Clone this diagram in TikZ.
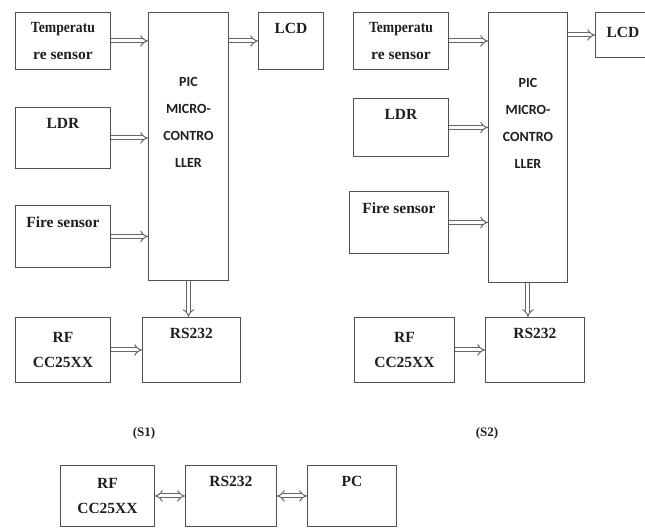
\documentclass[tikz,border=0pt]{standalone}
\usepackage{fontspec}
\usepackage{graphicx}
\setmainfont{Liberation Serif}
\newfontfamily\picfont{Carlito}
\usetikzlibrary{positioning, arrows.meta}
\definecolor{boxline}{HTML}{505050}
\definecolor{busline}{HTML}{666666}
\definecolor{textmain}{HTML}{1E1E1E}

\begin{document}
\begin{tikzpicture}[x=1pt, y=-1pt,
        blk/.style={rectangle, draw=boxline, line width=0.9pt, anchor=north west,
                    inner sep=0pt, font=\fontsize{15.5}{25}\selectfont\bfseries,
                    text=textmain, align=center},
        lbl/.style={anchor=north, yshift=-8pt, font=\fontsize{15.5}{18}\selectfont\bfseries,
                    text=textmain},
        mcu/.style={anchor=center, yshift=24pt, align=center, text=textmain,
                    font=\picfont\fontsize{14}{27}\selectfont\bfseries},
        captxt/.style={font=\fontsize{13}{15}\selectfont\bfseries, text=textmain},
        bus/.style={draw=busline, line width=1pt, double=white, double distance=3pt, -{Implies}},
        bus2/.style={bus, {Implies}-{Implies}}
      ]
        \useasboundingbox (0,0) rectangle (645,528);
        \clip (0,0) rectangle (645,528);

        % station S1
        \node[blk, minimum width=95pt, minimum height=57pt, font=\fontsize{15.5}{27}\selectfont\bfseries]
              (tempA) at (15,12) {\scalebox{0.88}[1]{Temperatu}\\re sensor};
        \node[blk, minimum width=95pt, minimum height=61pt, label={[lbl]north:LDR}] (ldrA) at (15,107) {};
        \node[blk, minimum width=95pt, minimum height=62pt, label={[lbl]north:Fire sensor}] (fireA) at (15,205) {};
        \node[blk, minimum width=80pt, minimum height=268pt,
              label={[mcu]center:PIC\\MICRO-\\CONTRO\\LLER}] (picA) at (148,12) {};
        \node[blk, minimum width=65pt, minimum height=57pt, label={[lbl]north:LCD}] (lcdA) at (258,12) {};
        \node[blk, minimum width=95pt, minimum height=65pt] (rfA) at (15,317) {RF\\CC25XX};
        \node[blk, minimum width=98pt, minimum height=65pt, label={[lbl]north:RS232}] (rsA) at (142,317) {};
        \node[captxt] (capA) at (144,433) {(S1)};

        \draw[bus] (tempA.east) -- (tempA.east -| picA.west);
        \draw[bus] (ldrA.east) -- (ldrA.east -| picA.west);
        \draw[bus] (fireA.east) -- (fireA.east -| picA.west);
        \draw[bus] (lcdA.west -| picA.east) -- (lcdA.west);
        \draw[bus] (picA.south) -- (picA.south |- rsA.north);
        \draw[bus] (rfA.east) -- (rsA.west);

        % station S2
        \node[blk, minimum width=95pt, minimum height=57pt, font=\fontsize{15.5}{27}\selectfont\bfseries]
              (tempB) at (353,12) {\scalebox{0.88}[1]{Temperatu}\\re sensor};
        \node[blk, minimum width=95pt, minimum height=58pt, label={[lbl]north:LDR}] (ldrB) at (353,98) {};
        \node[blk, minimum width=99pt, minimum height=62pt, label={[lbl]north:Fire sensor}] (fireB) at (349,191) {};
        \node[blk, minimum width=79pt, minimum height=270pt,
              label={[mcu]center:PIC\\MICRO-\\CONTRO\\LLER}] (picB) at (488,12) {};
        \node[blk, minimum width=70pt, minimum height=45pt] (lcdB) at (595,12) {};
        \node[lbl, yshift=0pt] (lcdBtext) at (623,16) {LCD};
        \node[blk, minimum width=100pt, minimum height=65pt] (rfB) at (354,317) {RF\\CC25XX};
        \node[blk, minimum width=99pt, minimum height=65pt, label={[lbl]north:RS232}] (rsB) at (485,317) {};
        \node[captxt] (capB) at (487,433) {(S2)};

        \draw[bus] (tempB.east) -- (tempB.east -| picB.west);
        \draw[bus] (ldrB.east) -- (ldrB.east -| picB.west);
        \draw[bus] (fireB.east) -- (fireB.east -| picB.west);
        \draw[bus] (lcdB.west -| picB.east) -- (lcdB.west);
        \draw[bus] (picB.south) -- (picB.south |- rsB.north);
        \draw[bus] (rfB.east) -- (rsB.west);

        % receiver side
        \node[blk, minimum width=94pt, minimum height=61pt] (rfC) at (60,465) {RF\\CC25XX};
        \node[blk, minimum width=91pt, minimum height=61pt, label={[lbl]north:RS232}] (rsC) at (185,465) {};
        \node[blk, minimum width=89pt, minimum height=61pt, label={[lbl]north:PC}] (pcC) at (307,465) {};

        \draw[bus2] (rfC.east) -- (rsC.west);
        \draw[bus2] (rsC.east) -- (pcC.west);
      \end{tikzpicture}
\end{document}
